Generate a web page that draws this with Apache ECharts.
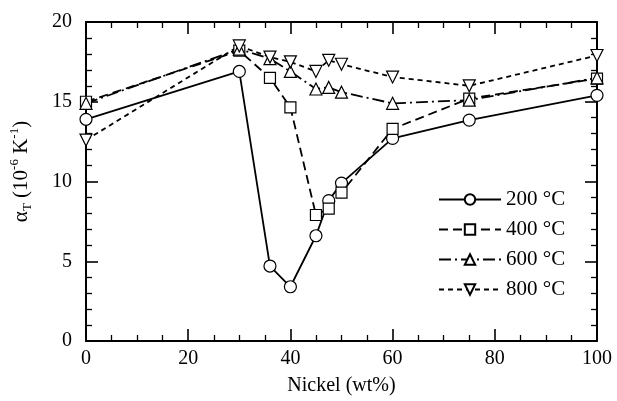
<!DOCTYPE html>
<html>
<head>
<meta charset="utf-8">
<script src="https://cdn.jsdelivr.net/npm/echarts@6/dist/echarts.min.js"></script>
<style>
  html, body { margin: 0; padding: 0; background: #fff; }
  #chart { width: 617px; height: 401px; }
</style>
</head>
<body>
<div id="chart"></div>
<script>
// nickel content (wt%) and alpha_T (10^-6 K^-1)
const nickel = [0, 30, 36, 40, 45, 47.5, 50, 60, 75, 100];
const alpha200 = [13.9, 16.9, 4.7, 3.4, 6.6, 8.8, 9.9, 12.7, 13.85, 15.4];
const alpha400 = [15.0, 18.2, 16.5, 14.65, 7.9, 8.3, 9.3, 13.3, 15.2, 16.45];
const alpha600 = [14.9, 18.3, 17.7, 16.9, 15.8, 15.9, 15.6, 14.9, 15.1, 16.5];
const alpha800 = [12.6, 18.5, 17.8, 17.5, 16.9, 17.6, 17.35, 16.55, 16.0, 17.9];
const seriesNames = ["200 °C", "400 °C", "600 °C", "800 °C"];

const font = "Liberation Serif";

function pairs(ys) {
  return nickel.map((x, i) => [x, ys[i]]);
}

function makeSeries(name, ys, symbol, size, dash, rotate) {
  return {
    name: name,
    type: "line",
    data: pairs(ys),
    symbol: symbol,
    symbolSize: size,
    symbolRotate: rotate || 0,
    showAllSymbol: true,
    xAxisIndex: 0,
    yAxisIndex: 0,
    lineStyle: { color: "#000", width: 1.8, type: dash },
    itemStyle: { color: "#fff", borderColor: "#000", borderWidth: 1.2 },
    emphasis: { disabled: true },
    z: 3
  };
}

// ticks point inward on all four sides
function tickAxis(extra) {
  return Object.assign({
    type: "value",
    axisLine: { show: true, onZero: false, lineStyle: { color: "#000", width: 2 } },
    axisTick: { show: true, inside: true, length: 12, lineStyle: { color: "#000", width: 1.6 } },
    splitLine: { show: false }
  }, extra);
}

const minorX = { show: true, splitNumber: 4, length: 6, lineStyle: { color: "#000", width: 1.3 } };
const minorY = { show: true, splitNumber: 5, length: 6, lineStyle: { color: "#000", width: 1.3 } };

const option = {
  animation: false,
  grid: { left: 86, right: 20, top: 22, bottom: 59 },
  xAxis: [
    tickAxis({
      min: 0, max: 100, interval: 20, position: "bottom",
      minorTick: minorX,
      axisLabel: { color: "#000", fontFamily: font, fontSize: 20, margin: 8 },
      name: "Nickel (wt%)", nameLocation: "middle", nameGap: 35,
      nameTextStyle: { color: "#000", fontFamily: font, fontSize: 20 }
    }),
    tickAxis({
      min: 0, max: 100, interval: 20, position: "top",
      minorTick: minorX,
      axisLabel: { show: false }
    })
  ],
  yAxis: [
    tickAxis({
      min: 0, max: 20, interval: 5, position: "left",
      minorTick: minorY,
      axisLabel: { color: "#000", fontFamily: font, fontSize: 20, margin: 14 },
      name: "{a|α}{sub|T}{a| (10}{sup|-6}{a| K}{sup|-1}{a|)}",
      nameLocation: "middle", nameRotate: 90, nameGap: 52,
      nameTextStyle: {
        color: "#000", fontFamily: font, fontSize: 20, padding: [0, 0, 0, 20],
        rich: {
          a: { fontFamily: font, fontSize: 21, color: "#000", verticalAlign: "middle", lineHeight: 26 },
          sub: { fontFamily: font, fontSize: 13, color: "#000", verticalAlign: "bottom", lineHeight: 26 },
          sup: { fontFamily: font, fontSize: 13, color: "#000", verticalAlign: "top", lineHeight: 26 }
        }
      }
    }),
    tickAxis({
      min: 0, max: 20, interval: 5, position: "right",
      minorTick: minorY,
      axisLabel: { show: false }
    })
  ],
  legend: {
    orient: "vertical",
    left: 433,
    top: 184,
    itemWidth: 62,
    itemHeight: 13,
    itemGap: 9,
    textStyle: { color: "#000", fontFamily: font, fontSize: 21 },
    data: seriesNames
  },
  series: [
    makeSeries(seriesNames[0], alpha200, "circle", 12, "solid"),
    makeSeries(seriesNames[1], alpha400, "rect", 11, [9, 5]),
    makeSeries(seriesNames[2], alpha600, "triangle", 12, [12, 4, 2, 4]),
    makeSeries(seriesNames[3], alpha800, "triangle", 12, [5, 4], 180)
  ]
};

const chart = echarts.init(document.getElementById("chart"));
chart.setOption(option);
window.addEventListener("resize", function () {
  chart.resize();
});
</script>
</body>
</html>
